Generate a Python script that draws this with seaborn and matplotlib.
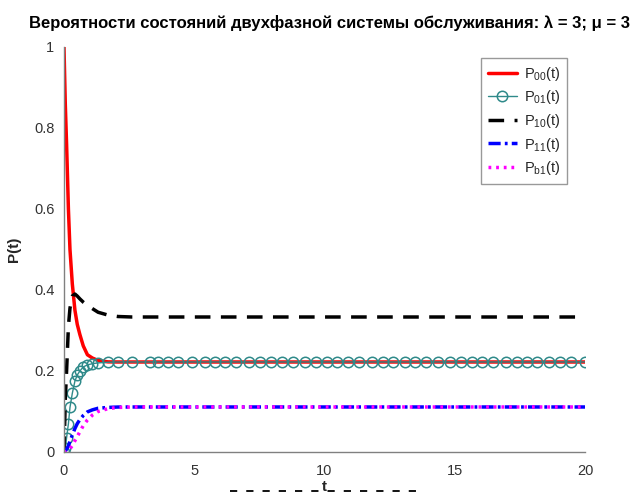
import matplotlib
matplotlib.use("Agg")
import matplotlib.pyplot as plt
from matplotlib.lines import Line2D
import seaborn as sns
import pandas as pd

# Output time points of the solver
t = [0.00, 0.05, 0.10, 0.17, 0.23, 0.32, 0.42, 0.51, 0.61, 0.74, 0.90, 1.09,
     1.31, 1.69, 2.07, 2.61, 3.30, 3.61, 3.99, 4.38, 4.91, 5.41, 5.80, 6.18,
     6.60, 7.10, 7.52, 7.95, 8.37, 8.79, 9.25, 9.67, 10.10, 10.48, 10.90,
     11.32, 11.82, 12.25, 12.63, 13.09, 13.47, 13.90, 14.36, 14.82, 15.24,
     15.66, 16.05, 16.47, 16.97, 17.39, 17.77, 18.16, 18.62, 19.04, 19.46,
     20.00]

n_tail = 41  # points after the transient, where all probabilities are steady

# State probabilities
p00 = [1.000, 0.860, 0.760, 0.600, 0.500, 0.415, 0.350, 0.315, 0.290, 0.262,
       0.240, 0.232, 0.226, 0.2225, 0.2222] + [0.2222] * n_tail
p01 = [0.000, 0.010, 0.035, 0.070, 0.110, 0.145, 0.175, 0.190, 0.200, 0.210,
       0.215, 0.218, 0.220, 0.2215, 0.2222] + [0.2222] * n_tail
p10 = [0.000, 0.130, 0.200, 0.310, 0.355, 0.385, 0.390, 0.385, 0.378, 0.370,
       0.362, 0.354, 0.345, 0.338, 0.3345] + [0.3333] * n_tail
p11 = [0.000, 0.002, 0.007, 0.015, 0.026, 0.042, 0.058, 0.070, 0.080, 0.090,
       0.099, 0.104, 0.108, 0.110, 0.111] + [0.1111] * n_tail
pb1 = [0.000, 0.000, 0.001, 0.004, 0.008, 0.016, 0.028, 0.038, 0.050, 0.065,
       0.079, 0.091, 0.100, 0.107, 0.110] + [0.1111] * n_tail

labels = [r"P$_{00}$(t)", r"P$_{01}$(t)", r"P$_{10}$(t)", r"P$_{11}$(t)", r"P$_{b1}$(t)"]
xticks = [0, 5, 10, 15, 20]
yticks = [0, 0.2, 0.4, 0.6, 0.8, 1]

sns.set_theme(style="white")
plt.rcParams["font.family"] = ["Liberation Sans", "DejaVu Sans"]
plt.rcParams["mathtext.fontset"] = "custom"
plt.rcParams["mathtext.rm"] = "Liberation Sans"
plt.rcParams["mathtext.it"] = "Liberation Sans"
plt.rcParams["mathtext.default"] = "regular"

df = pd.DataFrame({"t": t, "p00": p00, "p01": p01, "p10": p10, "p11": p11, "pb1": pb1})

fig = plt.figure(figsize=(6.36, 4.93), dpi=100)
ax = fig.add_axes([0.1006, 0.0832, 0.8192, 0.8215])

teal = "#2f8a8a"
common = dict(ax=ax, x="t", data=df, sort=False, estimator=None)
sns.lineplot(y="p00", color="#ff0000", linewidth=2.5, label=labels[0], **common)
sns.lineplot(y="p01", color=teal, linewidth=1.0, marker="o", markersize=7.5,
             markerfacecolor="none", markeredgecolor=teal, markeredgewidth=1.1,
             label=labels[1], **common)
sns.lineplot(y="p10", color="black", linewidth=2.5, dashes=False, label=labels[2], **common)
sns.lineplot(y="p11", color="#0000ff", linewidth=2.5, label=labels[3], **common)
sns.lineplot(y="pb1", color="#ff00ff", linewidth=2.5, label=labels[4], **common)

lines = ax.get_lines()
lines[2].set_dashes((4.5, 3.0))
lines[3].set_dashes((3.5, 1.2, 0.8, 1.2))
lines[4].set_dashes((0.8, 1.4))

ax.set_xlim(0, 20)
ax.set_ylim(0, 1)
ax.set_xticks(xticks)
ax.set_xticklabels([str(v) for v in xticks])
ax.set_yticks(yticks)
ax.set_yticklabels(["0", "0.2", "0.4", "0.6", "0.8", "1"])

for side in ("top", "right"):
    ax.spines[side].set_visible(False)
for side in ("left", "bottom"):
    ax.spines[side].set_color("#808080")
    ax.spines[side].set_linewidth(1.0)
ax.tick_params(direction="in", length=5, width=1.0, color="#333333",
               labelsize=10.5, labelcolor="#333333")
ax.tick_params(axis="x", pad=9)
ax.tick_params(axis="y", pad=7)

ax.set_title("Вероятности состояний двухфазной системы обслуживания: λ = 3; μ = 3",
             fontsize=12, fontweight="bold", pad=14, x=0.51, color="black")
ax.set_ylabel("P(t)", fontsize=11, fontweight="bold", labelpad=9)
ax.set_xlabel("t", fontsize=11, fontweight="bold", labelpad=1)

# Dashed guide under the time-axis label
fig.add_artist(Line2D([0.362, 0.66], [0.004, 0.004], transform=fig.transFigure,
                      color="black", linewidth=1.3, dashes=(4, 5)))

leg = ax.legend(loc="upper right", bbox_to_anchor=(0.98, 0.99), fontsize=10.5,
                frameon=True, fancybox=False, edgecolor="#808080",
                handlelength=2.0, handletextpad=0.5, borderpad=0.45,
                labelspacing=0.38)
leg.get_frame().set_linewidth(1.0)

fig.savefig("out.png", dpi=100)
